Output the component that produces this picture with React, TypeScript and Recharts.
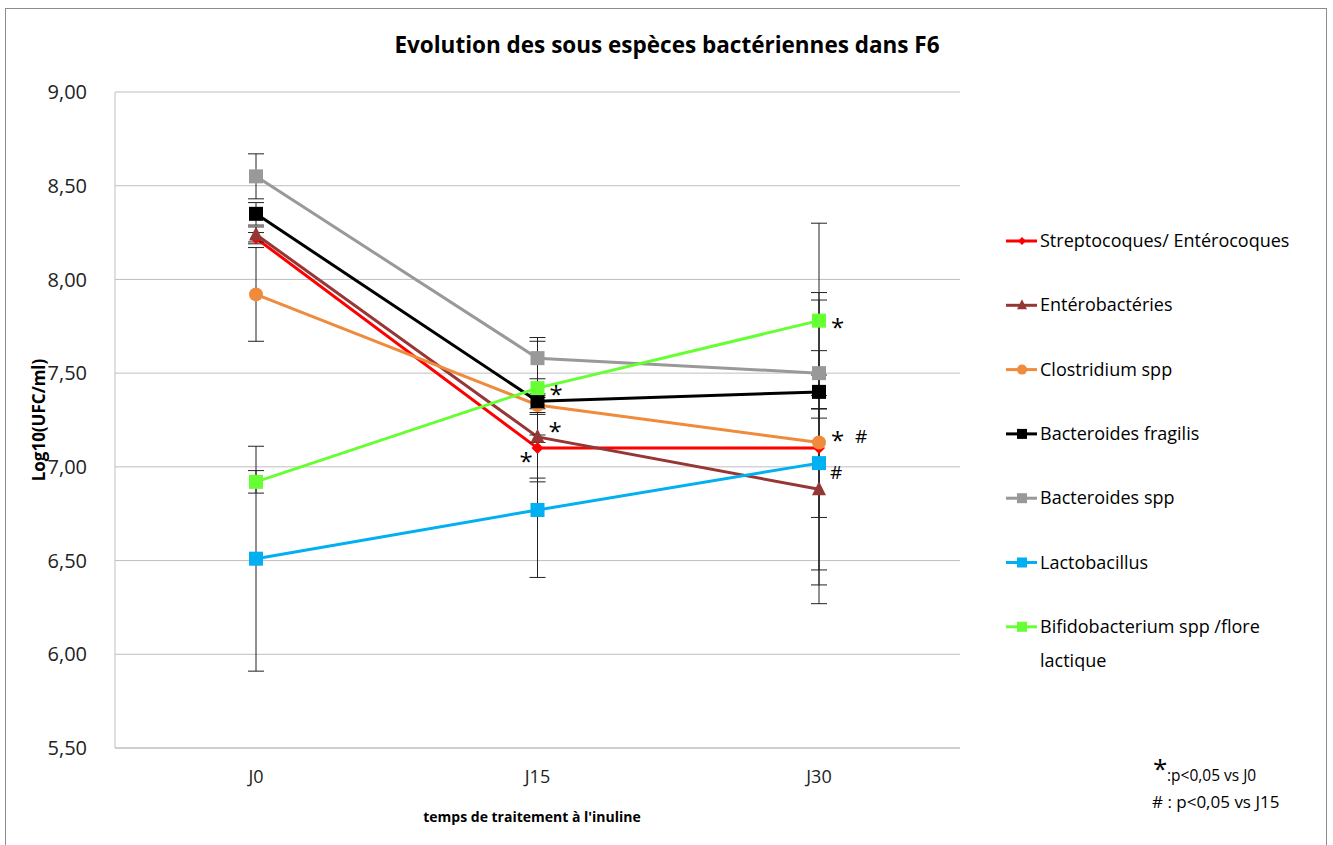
import React from "react"
import { LineChart, Line, XAxis, YAxis, CartesianGrid, ErrorBar } from "recharts"

const categories = ["J0", "J15", "J30"]
const yTicks = [5.5, 6, 6.5, 7, 7.5, 8, 8.5, 9]

const strep = [8.22, 7.1, 7.1]
const strepErr = [0.03, 0.18, 0.83]
const entero = [8.24, 7.16, 6.88]
const enteroErr = [0.04, 0.22, 0.43]
const clostridium = [7.92, 7.33, 7.13]
const clostridiumErr = [0.25, 0.04, 0.76]
const fragilis = [8.35, 7.35, 7.4]
const fragilisErr = [0.06, 0.04, 0.09]
const bactSpp = [8.55, 7.58, 7.5]
const bactSppErr = [0.12, 0.11, 0.12]
const lacto = [6.51, 6.77, 7.02]
const lactoErr = [0.6, 0.36, 0.29]
const bifido = [6.92, 7.42, 7.78]
const bifidoErr = [0.06, 0.25, 0.52]

// significance marks per point (* : vs J0, # : vs J15)
const strepMarks = [[], ["*"], []]
const enteroMarks = [[], ["*"], []]
const clostridiumMarks = [[], [], ["*", "#"]]
const lactoMarks = [[], [], ["#"]]
const bifidoMarks = [[], ["*"], ["*"]]
const noMarks = [[], [], []]

const FONT = "'Open Sans', sans-serif"

type Shape = "diamond" | "triangle" | "circle" | "square"

const series = [
  { key: "strep", name: "Streptocoques/ Entérocoques", color: "#ff0000", shape: "diamond" as Shape, values: strep, err: strepErr, marks: strepMarks, dx: -18, dy: 8 },
  { key: "entero", name: "Entérobactéries", color: "#953735", shape: "triangle" as Shape, values: entero, err: enteroErr, marks: enteroMarks, dx: 11, dy: -11 },
  { key: "clostridium", name: "Clostridium spp", color: "#f08a3c", shape: "circle" as Shape, values: clostridium, err: clostridiumErr, marks: clostridiumMarks, dx: 12, dy: -7 },
  { key: "fragilis", name: "Bacteroides fragilis", color: "#000000", shape: "square" as Shape, values: fragilis, err: fragilisErr, marks: noMarks, dx: 0, dy: 0 },
  { key: "bactSpp", name: "Bacteroides spp", color: "#999999", shape: "square" as Shape, values: bactSpp, err: bactSppErr, marks: noMarks, dx: 0, dy: 0 },
  { key: "lacto", name: "Lactobacillus", color: "#00b0f0", shape: "square" as Shape, values: lacto, err: lactoErr, marks: lactoMarks, dx: 11, dy: 8 },
  { key: "bifido", name: "Bifidobacterium spp /flore lactique", color: "#66ff33", shape: "square" as Shape, values: bifido, err: bifidoErr, marks: bifidoMarks, dx: 12, dy: 1 },
]

const data = categories.map((c, i) => {
  const row: Record<string, any> = { cat: c }
  series.forEach((s) => {
    row[s.key] = s.values[i]
    row[s.key + "Err"] = s.err[i]
  })
  return row
})

function Marker({ cx, cy, shape, color, size = 7 }: { cx: number; cy: number; shape: Shape; color: string; size?: number }) {
  if (shape === "square") return <rect x={cx - size} y={cy - size} width={size * 2} height={size * 2} fill={color} />
  if (shape === "circle") return <circle cx={cx} cy={cy} r={size} fill={color} />
  if (shape === "triangle")
    return <polygon points={`${cx},${cy - size - 1} ${cx + size},${cy + size - 1} ${cx - size},${cy + size - 1}`} fill={color} />
  return <polygon points={`${cx},${cy - size + 1} ${cx + size - 1},${cy} ${cx},${cy + size - 1} ${cx - size + 1},${cy}`} fill={color} />
}

const legendTop = 241
const legendStep = 64.3

export default function App() {
  return (
    <div style={{ position: "absolute", left: 0, top: 0, width: 1333, height: 845, background: "#fff" }}>
      <LineChart width={1333} height={845} data={data} margin={{ top: 92, right: 373, bottom: 67, left: 15 }}>
        <CartesianGrid vertical={false} stroke="#bfbfbf" />
        <XAxis
          dataKey="cat"
          padding={{ left: 141, right: 141 }}
          tickLine={false}
          axisLine={{ stroke: "#bfbfbf" }}
          height={30}
          tick={{ fill: "#222", fontSize: 18, fontFamily: FONT }}
          tickMargin={16}
        />
        <YAxis
          domain={[5.5, 9]}
          ticks={yTicks}
          width={100}
          tickLine={false}
          axisLine={{ stroke: "#bfbfbf" }}
          tickFormatter={(v: number) => v.toFixed(2).replace(".", ",")}
          tick={{ fill: "#222", fontSize: 20, fontFamily: FONT }}
          tickMargin={22}
          interval={0}
        />
        {series.map((s) => (
          <Line
            key={s.key}
            dataKey={s.key}
            name={s.name}
            stroke={s.color}
            strokeWidth={3}
            isAnimationActive={false}
            dot={(p: any) => <Marker key={p.index} cx={p.cx} cy={p.cy} shape={s.shape} color={s.color} />}
            activeDot={false}
            label={(p: any) => {
              const m = s.marks[p.index] || []
              return (
                <g key={p.index}>
                  {m.map((t: string, j: number) => (
                    <text
                      key={j}
                      x={p.x + s.dx + j * 24}
                      y={p.y + s.dy + (t === "*" ? 14 : 8)}
                      fontSize={t === "*" ? 24 : 19}
                      fontFamily={FONT}
                      fill="#000"
                    >
                      {t}
                    </text>
                  ))}
                </g>
              )
            }}
          >
            <ErrorBar dataKey={s.key + "Err"} width={8} stroke="#222" strokeWidth={1} direction="y" />
          </Line>
        ))}
      </LineChart>
      <svg width={1333} height={845} style={{ position: "absolute", left: 0, top: 0, pointerEvents: "none" }}>
        <rect x={5.5} y={8.5} width={1321} height={840} fill="none" stroke="#8c8c8c" />
        <text x={667} y={53} textAnchor="middle" fontSize={22.5} fontWeight="bold" fontFamily={FONT} fill="#000">
          Evolution des sous espèces bactériennes dans F6
        </text>
        <text
          x={0}
          y={0}
          transform="translate(45,420) rotate(-90)"
          textAnchor="middle"
          fontSize={17}
          fontWeight="bold"
          fontFamily={FONT}
          fill="#000"
        >
          Log10(UFC/ml)
        </text>
        <text x={532} y={822} textAnchor="middle" fontSize={14} fontWeight="bold" fontFamily={FONT} fill="#000">
          temps de traitement à l'inuline
        </text>
        {series.map((s, i) => {
          const y = legendTop + i * legendStep
          const parts = s.name.split(" /")
          return (
            <g key={s.key}>
              <line x1={1006} x2={1037} y1={y} y2={y} stroke={s.color} strokeWidth={3} />
              <Marker cx={1022} cy={y} shape={s.shape} color={s.color} size={5} />
              {parts.length > 1 ? (
                <text x={1040} y={y + 6} fontSize={18} fontFamily={FONT} fill="#000">
                  <tspan x={1040}>{parts[0] + " /" + parts[1].split(" ")[0]}</tspan>
                  <tspan x={1040} dy={34}>{parts[1].split(" ").slice(1).join(" ")}</tspan>
                </text>
              ) : (
                <text x={1040} y={y + 6} fontSize={18} fontFamily={FONT} fill="#000">
                  {s.name}
                </text>
              )}
            </g>
          )
        })}
        <text x={1153} y={778} fontSize={26} fontFamily={FONT} fill="#000">*</text>
        <text x={1167} y={781} fontSize={15.5} fontFamily={FONT} fill="#000">:p&lt;0,05 vs J0</text>
        <text x={1152} y={808} fontSize={17} fontFamily={FONT} fill="#000"># : p&lt;0,05 vs J15</text>
      </svg>
    </div>
  )
}
